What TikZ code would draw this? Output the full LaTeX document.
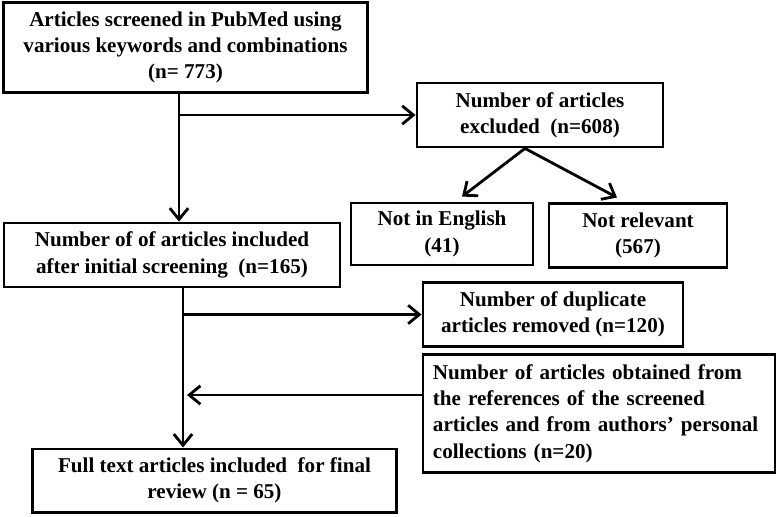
\documentclass[tikz,border=0pt]{standalone}
\usepackage{fontspec}
\setmainfont{Liberation Serif}
\usetikzlibrary{arrows.meta,calc}

\tikzset{
	box/.style={draw, line width=2pt, align=center, inner sep=2pt,
		font=\fontsize{15}{18.7}\selectfont\bfseries},
	arr/.style={->, line width=2pt},
	>={Straight Barb[length=2.8mm,width=4.6mm,line width=2pt]}
}

\begin{document}
\begin{tikzpicture}[x=0.025cm, y=-0.025cm]
			\useasboundingbox (0,0) rectangle (780,516);
			% boxes
			\node[box, minimum width=9.08cm, minimum height=2.23cm] (screened) at (185.5,47.5)
			{
				Articles screened in PubMed using\\
				various keywords and combinations\\
				(n= 773)
			};
			\node[box, minimum width=6.15cm, minimum height=1.6cm] (excluded) at (540,115)
			{
				Number of articles\\
				excluded\ \ (n=608)
			};
			\node[box, minimum width=4.55cm, minimum height=1.55cm] (english) at (442,234)
			{
				Not in English\\
				(41)
			};
			\node[box, minimum width=4.45cm, minimum height=1.58cm] (relevant) at (638,235.5)
			{
				Not relevant\\
				(567)
			};
			\node[box, minimum width=8.4cm, minimum height=1.6cm] (included) at (172,255)
			{
				Number of of articles included\\
				after initial screening\ \ (n=165)
			};
			\node[box, minimum width=6.5cm, minimum height=1.58cm] (duplicate) at (553,314.5)
			{
				Number of duplicate\\
				articles removed (n=120)
			};
			\node[box, align=left, text width=8.3cm, inner sep=0.25cm, minimum height=2.88cm] (references) at (599,413.5)
			{
				Number of articles obtained from\\
				the references of the screened\\
				articles and from authors’ personal\\
				collections (n=20)
			};
			\node[box, minimum width=9.08cm, minimum height=1.58cm] (final) at (214.5,480.5)
			{
				Full text articles included\ \ for final\\
				review (n = 65)
			};
			% trunk lines
			\coordinate (trunkA) at (179,0);
			\coordinate (trunkB) at (183,0);
			\coordinate (back) at ($(references.west)+(0,-18.5)$);
			\draw[arr] (trunkA |- screened.south) -- (trunkA |- included.north);
			\draw[arr] (trunkA |- excluded.west) -- (excluded.west);
			\draw[arr] ($(excluded.south)+(-15,0)$) -- ($(english.north)+(20,-5)$);
			\draw[arr] ($(excluded.south)+(-15,0)$) -- ($(relevant.north)+(-21,-5)$);
			\draw[arr] (trunkB |- included.south) -- (trunkB |- final.north);
			\draw[arr] (trunkB |- duplicate.west) -- (duplicate.west);
			\draw[arr] (back) -- ($(trunkB |- back)+(4,0)$);
		\end{tikzpicture}
\end{document}
